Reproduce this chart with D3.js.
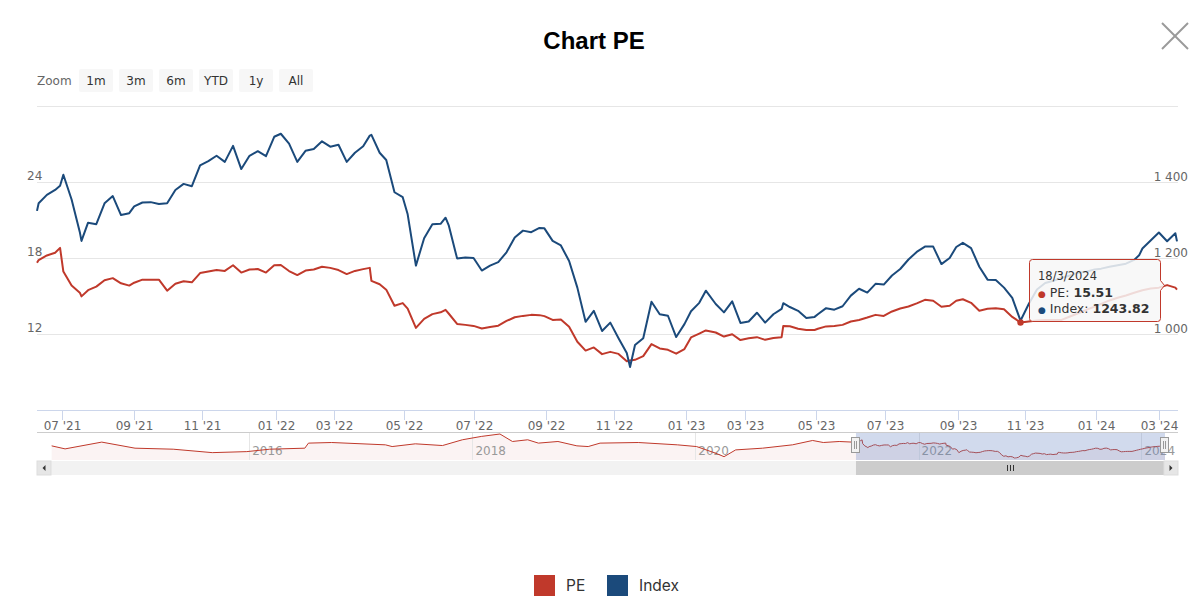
<!DOCTYPE html>
<html><head><meta charset="utf-8">
<script src="https://cdn.jsdelivr.net/npm/d3@7"></script>
<style>
html,body{margin:0;padding:0;background:#fff;}
svg{display:block;}
</style></head><body>
<svg id="chart" width="1200" height="611"></svg>
<script>
// ---------------- data ----------------
const dates = ["2021-06-10","2021-06-11","2021-06-18","2021-06-25","2021-06-30","2021-07-02","2021-07-09","2021-07-16","2021-07-19","2021-07-23","2021-07-30",
"2021-08-06","2021-08-13","2021-08-20","2021-08-27","2021-09-01","2021-09-10","2021-09-17","2021-09-24","2021-10-01","2021-10-08","2021-10-15","2021-10-22","2021-10-29",
"2021-11-05","2021-11-12","2021-11-19","2021-11-26","2021-12-03","2021-12-10","2021-12-17","2021-12-24","2021-12-31",
"2022-01-07","2022-01-14","2022-01-21","2022-01-28","2022-02-11","2022-02-18","2022-02-25","2022-03-04","2022-03-11","2022-03-18","2022-03-25","2022-03-31","2022-04-01",
"2022-04-08","2022-04-15","2022-04-22","2022-04-29","2022-05-06","2022-05-13","2022-05-20","2022-05-27","2022-06-03","2022-06-08","2022-06-10","2022-06-17","2022-06-24",
"2022-07-01","2022-07-08","2022-07-15","2022-07-22","2022-07-29","2022-08-05","2022-08-12","2022-08-19","2022-08-26","2022-08-31","2022-09-09","2022-09-16","2022-09-23","2022-09-30",
"2022-10-07","2022-10-14","2022-10-21","2022-10-28","2022-11-04","2022-11-11","2022-11-15","2022-11-18","2022-11-25","2022-12-02","2022-12-09","2022-12-16","2022-12-23","2022-12-30",
"2023-01-06","2023-01-13","2023-01-19","2023-02-03","2023-02-10","2023-02-17","2023-02-24","2023-03-03","2023-03-10","2023-03-17","2023-03-24","2023-03-31","2023-04-03",
"2023-04-07","2023-04-14","2023-04-21","2023-04-28","2023-05-05","2023-05-12","2023-05-19","2023-05-26","2023-06-02","2023-06-09","2023-06-16","2023-06-23","2023-06-30",
"2023-07-07","2023-07-14","2023-07-21","2023-07-28","2023-08-04","2023-08-11","2023-08-18","2023-08-25","2023-08-31","2023-09-08","2023-09-15","2023-09-22","2023-09-29",
"2023-10-06","2023-10-13","2023-10-20","2023-10-27","2023-11-03","2023-11-10","2023-11-17","2023-11-24","2023-12-01","2023-12-08","2023-12-15","2023-12-22","2023-12-29",
"2024-01-05","2024-01-12","2024-01-19","2024-01-26","2024-02-02","2024-02-07","2024-02-16","2024-02-23","2024-03-01","2024-03-08","2024-03-15","2024-03-18"];

const peValues = [17.62,17.84,18.20,18.42,18.80,16.93,15.82,15.26,14.97,15.46,15.74,
16.25,16.41,16.00,15.82,16.05,16.29,16.29,16.29,15.42,15.97,16.16,16.08,16.81,
16.93,17.05,16.98,17.43,16.85,17.09,17.13,16.85,17.42,
17.45,16.97,16.65,17.01,17.09,17.31,17.22,17.05,16.73,16.98,17.12,17.22,16.20,
15.93,15.50,14.23,14.44,14.00,12.48,13.19,13.57,13.71,13.91,13.60,12.79,12.72,
12.64,12.44,12.56,12.66,13.03,13.32,13.43,13.51,13.49,13.41,13.11,13.15,12.58,11.39,
10.69,10.94,10.41,10.59,10.43,9.85,9.90,9.96,10.25,11.20,10.86,10.75,10.45,10.81,
11.73,12.03,12.28,12.12,11.80,11.98,11.52,11.66,11.75,11.54,11.68,11.75,12.64,
12.61,12.42,12.32,12.32,12.41,12.60,12.64,12.72,12.99,13.11,13.30,13.51,13.43,
13.78,14.01,14.17,14.42,14.70,14.62,14.15,14.23,14.62,14.74,14.46,13.84,13.99,
14.03,13.95,13.35,12.91,12.99,13.07,13.11,13.11,13.11,13.38,13.64,13.91,14.16,
14.38,14.65,14.86,15.04,15.26,15.38,15.46,15.60,15.66,15.86,15.66,15.51];

const indexValues = [1324,1344,1366,1379,1390,1419,1354,1268,1245,1293,1289,
1344,1363,1313,1318,1336,1346,1347,1342,1344,1379,1395,1389,1444,
1455,1469,1453,1495,1434,1469,1481,1468,1519,
1527,1501,1453,1482,1487,1507,1493,1498,1453,1477,1494,1522,1524,
1477,1458,1373,1360,1315,1180,1252,1289,1290,1306,1285,1199,1201,
1200,1167,1180,1189,1215,1254,1272,1268,1279,1278,1245,1233,1192,1122,
1032,1061,1008,1030,989,950,913,971,989,1085,1052,1048,992,1026,
1060,1082,1114,1079,1057,1086,1029,1033,1056,1030,1052,1066,1081,
1071,1061,1042,1045,1052,1068,1064,1073,1101,1119,1109,1132,1130,
1154,1171,1196,1216,1230,1230,1184,1200,1229,1240,1226,1177,1143,
1142,1122,1095,1035,1079,1117,1134,1140,1148,1154,1161,1164,1170,
1172,1177,1181,1185,1195,1207,1225,1246,1267,1244,1265,1243.82];

// navigator history (PE) before the selected range
const navDates = ["2014-03-25","2014-05-08","2014-09-05","2014-12-23","2015-04-27","2015-09-02","2015-12-24","2016-03-08","2016-07-01","2016-07-13","2016-09-27",
"2017-03-22","2017-04-13","2017-06-28","2017-09-25","2017-11-29","2018-01-30","2018-04-01","2018-05-12","2018-07-01","2018-08-05","2018-10-08","2018-12-09",
"2019-01-15","2019-02-23","2019-06-28","2019-11-03","2020-01-05","2020-03-08","2020-04-04","2020-05-12","2020-08-08","2020-11-14","2021-01-19","2021-02-23","2021-04-16"];
const navPE = [15.85,14.35,17.7,14.7,14.2,12.5,13.0,14.2,14.7,17.2,17.5,
16.35,15.5,16.85,16.0,18.85,20.5,21.7,18.0,18.85,17.2,18.0,15.85,
15.5,17.2,17.5,16.35,15.5,12.2,10.5,13.85,14.7,16.35,18.5,17.5,18.0];
const navRange = ["2014-02-05","2024-03-18"];
const navYears = [2016, 2018, 2020, 2022, 2024];

const leftGrid = [12, 18, 24, 30];
const rightGrid = [1000, 1200, 1400, 1600];
const leftDomain = [6, 30];
const rightDomain = [800, 1600];
const zoomButtons = ["1m","3m","6m","YTD","1y","All"];
const seriesNames = ["PE", "Index"];
const hoverDate = "2023-10-27";

// exchange holidays (ordinal axis skips them)
const holidays = ["2021-09-02","2021-09-03","2022-01-03","2022-01-31","2022-02-01","2022-02-02","2022-02-03","2022-02-04","2022-04-11","2022-05-02","2022-05-03",
"2022-09-01","2022-09-02","2023-01-02","2023-01-20","2023-01-23","2023-01-24","2023-01-25","2023-01-26","2023-05-01","2023-05-02","2023-05-03",
"2023-09-01","2023-09-04","2024-01-01","2024-02-08","2024-02-09","2024-02-12","2024-02-13","2024-02-14"];

// ---------------- styles ----------------
const RED = "#c0392b", BLUE = "#1b4a7b";
const FONT = "'DejaVu Sans', Verdana, sans-serif";
const L = 37, R = 1177, T = 106, B = 410;
const NAV_T = 432, NAV_B = 460, SB_B = 474, NAV_R = 1165;

// ---------------- helpers ----------------
const parse = d3.timeParse("%Y-%m-%d");
const key = d3.timeFormat("%Y-%m-%d");
const holidaySet = new Set(holidays);
const start = parse(dates[0]);
const end = parse(dates[dates.length - 1]);
const isTrading = d => { const w = d.getDay(); return w !== 0 && w !== 6 && !holidaySet.has(key(d)); };
const tIndex = d => d3.timeDay.range(start, d).filter(isTrading).length;

const rows = dates.map((s, i) => { const d = parse(s); return {d, t: tIndex(d), pe: peValues[i], idx: indexValues[i]}; });

const x = d3.scaleLinear().domain([0, tIndex(end)]).range([L, R]);
const yL = d3.scaleLinear().domain(leftDomain).range([B, T]);
const yR = d3.scaleLinear().domain(rightDomain).range([B, T]);

const svg = d3.select("#chart");

// title
svg.append("text").attr("x", 594).attr("y", 49).attr("text-anchor", "middle")
  .attr("font-family", "'Liberation Sans', Arial, sans-serif").attr("font-weight", "bold")
  .attr("font-size", 24).attr("fill", "#000").text("Chart PE");

// close icon
const cl = svg.append("g").attr("stroke", "#9a9a9a").attr("stroke-width", 2);
cl.append("line").attr("x1", 1162).attr("y1", 23).attr("x2", 1188).attr("y2", 49);
cl.append("line").attr("x1", 1188).attr("y1", 23).attr("x2", 1162).attr("y2", 49);

// range selector
svg.append("text").attr("x", 37).attr("y", 85).attr("font-family", FONT).attr("font-size", 12)
  .attr("fill", "#666").text("Zoom");
const bt = svg.append("g").selectAll("g").data(zoomButtons).join("g")
  .attr("transform", (d, i) => `translate(${79 + i * 40},69)`);
bt.append("rect").attr("width", 34).attr("height", 23).attr("rx", 2).attr("fill", "#f7f7f7");
bt.append("text").attr("x", 17).attr("y", 16).attr("text-anchor", "middle").attr("font-family", FONT)
  .attr("font-size", 12).attr("fill", "#333").text(d => d);

// grid
svg.append("g").selectAll("line").data(leftGrid).join("line")
  .attr("x1", L).attr("x2", R + 1).attr("y1", d => Math.round(yL(d)) + 0.5).attr("y2", d => Math.round(yL(d)) + 0.5)
  .attr("stroke", "#e6e6e6");

// left axis labels
svg.append("g").selectAll("text").data(leftGrid.slice(0, -1)).join("text")
  .attr("x", 27).attr("y", d => yL(d) - 2).attr("font-family", FONT).attr("font-size", 12)
  .attr("fill", "#666").text(d => d);
// right axis labels
const numFmt = v => d3.format(",")(v).replace(/,/g, " ");
svg.append("g").selectAll("text").data(rightGrid.slice(0, -1)).join("text")
  .attr("x", 1188).attr("y", d => yR(d) - 1).attr("text-anchor", "end").attr("font-family", FONT).attr("font-size", 12)
  .attr("fill", "#666").text(d => numFmt(d));

// x axis
const ticks = d3.timeMonth.every(2).range(d3.timeMonth.ceil(start), d3.timeMonth.offset(end, 1));
svg.append("line").attr("x1", L).attr("x2", R + 1).attr("y1", B + 0.5).attr("y2", B + 0.5).attr("stroke", "#ccd6eb");
const xt = svg.append("g").selectAll("g").data(ticks).join("g")
  .attr("transform", d => `translate(${Math.round(x(tIndex(d))) + 0.5},0)`);
xt.append("line").attr("y1", B).attr("y2", B + 10).attr("stroke", "#ccd6eb");
xt.append("text").attr("y", B + 19.5).attr("text-anchor", "middle").attr("font-family", FONT).attr("font-size", 12)
  .attr("fill", "#666").text(d => d3.timeFormat("%m '%y")(d));

// series
const linePE = d3.line().x(d => x(d.t)).y(d => yL(d.pe));
const lineIdx = d3.line().x(d => x(d.t)).y(d => yR(d.idx));
svg.append("path").datum(rows).attr("d", linePE).attr("fill", "none").attr("stroke", RED)
  .attr("stroke-width", 2).attr("stroke-linejoin", "round");
svg.append("path").datum(rows).attr("d", lineIdx).attr("fill", "none").attr("stroke", BLUE)
  .attr("stroke-width", 2).attr("stroke-linejoin", "round");

// hover marker
const hv = rows.find(r => key(r.d) === hoverDate);
svg.append("circle").attr("cx", x(hv.t)).attr("cy", yL(hv.pe)).attr("r", 3.2).attr("fill", RED);

// ---------------- navigator ----------------
const navRows = navDates.map((s, i) => ({d: parse(s), pe: navPE[i]}))
  .concat(rows.map(r => ({d: r.d, pe: r.pe})));
const nx = d3.scaleTime().domain(navRange.map(parse)).range([L, NAV_R]);
const ny = d3.scaleLinear().domain(d3.extent(navRows, d => d.pe)).range([NAV_B - 2, NAV_T + 2]);

const nav = svg.append("g");
nav.append("path").datum(navRows)
  .attr("d", d3.area().x(d => nx(d.d)).y0(NAV_B).y1(d => ny(d.pe)))
  .attr("fill", RED).attr("fill-opacity", 0.06);
nav.append("g").selectAll("line").data(navYears).join("line")
  .attr("x1", d => Math.round(nx(new Date(d, 0, 1))) + 0.5).attr("x2", d => Math.round(nx(new Date(d, 0, 1))) + 0.5)
  .attr("y1", NAV_T).attr("y2", NAV_B).attr("stroke", "#e6e6e6");
nav.append("g").selectAll("text").data(navYears).join("text")
  .attr("x", d => nx(new Date(d, 0, 1)) + 3).attr("y", 455).attr("font-family", FONT).attr("font-size", 12)
  .attr("fill", "#999").text(d => d);
nav.append("path").datum(navRows).attr("d", d3.line().x(d => nx(d.d)).y(d => ny(d.pe)))
  .attr("fill", "none").attr("stroke", RED).attr("stroke-width", 1);

const m0 = nx(start), m1 = nx(end);
nav.append("rect").attr("x", m0).attr("y", NAV_T).attr("width", m1 - m0).attr("height", NAV_B - NAV_T)
  .attr("fill", "rgba(102,133,194,0.3)");
nav.append("line").attr("x1", L).attr("x2", R + 1).attr("y1", NAV_T + 0.5).attr("y2", NAV_T + 0.5).attr("stroke", "#ccc");

// scrollbar
nav.append("rect").attr("x", L).attr("y", NAV_B + 1).attr("width", R - L + 1).attr("height", SB_B - NAV_B).attr("fill", "#f2f2f2");
nav.append("rect").attr("x", m0).attr("y", NAV_B + 1).attr("width", m1 - m0).attr("height", SB_B - NAV_B).attr("fill", "#cccccc");
[[L, -1], [R - 13, 1]].forEach(([bx, dir]) => {
  nav.append("rect").attr("x", bx).attr("y", NAV_B + 1).attr("width", 14).attr("height", SB_B - NAV_B).attr("fill", "#e6e6e6").attr("stroke", "#ddd");
  const cx = bx + 7, cy = NAV_B + 1 + (SB_B - NAV_B) / 2;
  nav.append("path").attr("d", `M${cx - 1.5 * dir},${cy - 3}L${cx + 1.5 * dir},${cy}L${cx - 1.5 * dir},${cy + 3}Z`).attr("fill", "#333");
});
const gx = (m0 + m1) / 2, gy = NAV_B + 1 + (SB_B - NAV_B) / 2;
[-3, 0, 3].forEach(o => nav.append("line").attr("x1", Math.round(gx + o) + 0.5).attr("x2", Math.round(gx + o) + 0.5)
  .attr("y1", gy - 3).attr("y2", gy + 3).attr("stroke", "#333"));

// handles
[m0, m1].forEach(hx => {
  const g = nav.append("g").attr("transform", `translate(${Math.round(hx)},437)`);
  g.append("rect").attr("x", -4.5).attr("y", 0.5).attr("width", 8).attr("height", 15).attr("fill", "#f2f2f2").attr("stroke", "#999");
  g.append("line").attr("x1", -1.5).attr("x2", -1.5).attr("y1", 4).attr("y2", 12).attr("stroke", "#999");
  g.append("line").attr("x1", 0.5).attr("x2", 0.5).attr("y1", 4).attr("y2", 12).attr("stroke", "#999");
});

// ---------------- tooltip ----------------
const last = rows[rows.length - 1];
const tip = svg.append("g");
const bx0 = 1029.5, bx1 = 1160.5, by0 = 259.5, by1 = 321.5, ty = 285.5;
tip.append("path")
  .attr("d", `M${bx0 + 3},${by0}H${bx1 - 3}Q${bx1},${by0} ${bx1},${by0 + 3}V${ty - 5}L${bx1 + 4},${ty}L${bx1},${ty + 5}V${by1 - 3}Q${bx1},${by1} ${bx1 - 3},${by1}H${bx0 + 3}Q${bx0},${by1} ${bx0},${by1 - 3}V${by0 + 3}Q${bx0},${by0} ${bx0 + 3},${by0}Z`)
  .attr("fill", "rgba(247,247,247,0.85)").attr("stroke", RED).attr("stroke-width", 1);
tip.append("text").attr("x", 1038).attr("y", 280).attr("font-family", FONT).attr("font-size", 11.5).attr("fill", "#333")
  .text(d3.timeFormat("%-d/%-m/%Y")(last.d));
[[seriesNames[0], RED, d3.format(".2f")(last.pe), 297], [seriesNames[1], BLUE, d3.format(".2f")(last.idx), 313]].forEach(([n, c, v, yy]) => {
  const t = tip.append("text").attr("x", 1038).attr("y", yy).attr("font-family", FONT).attr("font-size", 12.5).attr("fill", "#333");
  t.append("tspan").attr("fill", c).attr("font-size", 9).text("\u25CF");
  t.append("tspan").text(" " + n + ": ");
  t.append("tspan").attr("font-weight", "bold").text(v);
});

// ---------------- legend ----------------
const lg = svg.append("g").selectAll("g").data(seriesNames).join("g")
  .attr("transform", (d, i) => `translate(${534 + i * 73},575)`);
lg.append("rect").attr("width", 21).attr("height", 21).attr("fill", (d, i) => i === 0 ? RED : BLUE);
lg.append("text").attr("x", 32).attr("y", 16).attr("font-family", "Inter, 'Noto Sans', sans-serif").attr("font-size", 15.5)
  .attr("fill", "#333").text(d => d);
</script>
</body></html>
